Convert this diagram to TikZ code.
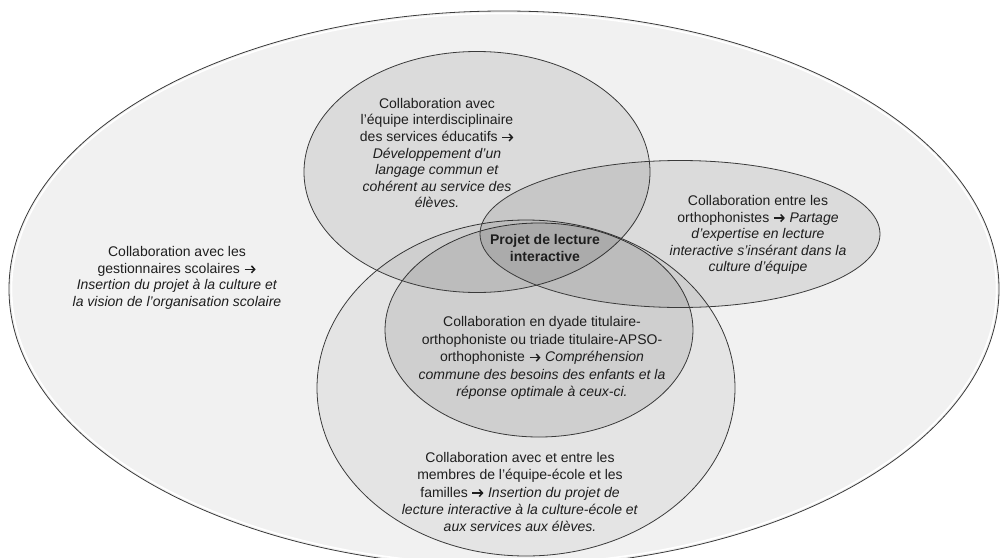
\documentclass[tikz,border=0pt]{standalone}
\usepackage{fontspec}
\setmainfont{Liberation Sans}
\usetikzlibrary{shapes.geometric,arrows.meta}
\definecolor{outerfill}{HTML}{F1F1F1}
\definecolor{edgecol}{HTML}{3A3A3A}
\definecolor{txtcol}{HTML}{1E1E1E}
\newcommand{\arr}{\tikz[baseline=-4pt]{\draw[txtcol, line width=1.5pt, -{Straight Barb[length=3.2pt,width=7pt,line width=1.5pt]}] (0pt,0pt) -- (11pt,0pt);}}
\tikzset{
  venn/.style={ellipse, draw=edgecol, line width=0.8pt, inner sep=0pt},
  halo/.style={ellipse, draw=white, line width=1.6pt, inner sep=0pt},
  lbl/.style={align=center, text=txtcol, font=\fontsize{14}{16.6}\selectfont, inner sep=0pt},
}
\begin{document}
\begin{tikzpicture}[x=1pt,y=-1pt]
\useasboundingbox (0,0) rectangle (1001,557);
\fill[white] (0,0) rectangle (1001,557);
\clip (0,0) rectangle (1001,557);
% outer ellipse
\node[halo, minimum width=986pt, minimum height=552pt] (outerh) at (504,289) {};
\node[venn, fill=outerfill, minimum width=990pt, minimum height=556pt] (outer) at (504,289) {};
\node[halo, minimum width=985pt, minimum height=551pt] (outerh2) at (504,289) {};
% bottom ellipse (equipe-ecole)
\node[venn, fill=black, fill opacity=0.05, minimum width=418pt, minimum height=336pt] (ecole) at (526,388) {};
% dyade
\node[venn, fill=black, fill opacity=0.09, minimum width=308pt, minimum height=214pt] (dyade) at (539,330) {};
% top ellipse
\node[venn, fill=black, fill opacity=0.09, minimum width=346pt, minimum height=241pt] (inter) at (477,172) {};
% right ellipse
\node[venn, fill=black, fill opacity=0.09, minimum width=400pt, minimum height=147pt] (ortho) at (680,234) {};
% texts
\node[lbl] (tgest) at (177,278) {Collaboration avec les\\gestionnaires scolaires \arr\\\textit{Insertion du projet à la culture et}\\\textit{la vision de l’organisation scolaire}};
\node[lbl] (tinter) at (437,153) {Collaboration avec\\l’équipe interdisciplinaire\\des services éducatifs \arr\\\textit{Développement d’un}\\\textit{langage commun et}\\\textit{cohérent au service des}\\\textit{élèves.}};
\node[lbl, font=\fontsize{14}{16.6}\selectfont\bfseries] (tprojet) at (545,248) {Projet de lecture\\interactive};
\node[lbl] (tortho) at (758,235) {Collaboration entre les\\orthophonistes \arr{} \textit{Partage}\\\textit{d’expertise en lecture}\\\textit{interactive s’insérant dans la}\\\textit{culture d’équipe}};
\node[lbl, font=\fontsize{14}{17.4}\selectfont] (tdyade) at (542,358) {Collaboration en dyade titulaire-\\orthophoniste ou triade titulaire-APSO-\\orthophoniste \arr{} \textit{Compréhension}\\\textit{commune des besoins des enfants et la}\\\textit{réponse optimale à ceux-ci.}};
\node[lbl, font=\fontsize{14}{17.4}\selectfont] (tecole) at (520,492) {Collaboration avec et entre les\\membres de l’équipe-école et les\\familles \arr{} \textit{Insertion du projet de}\\\textit{lecture interactive à la culture-école et}\\\textit{aux services aux élèves.}};
\end{tikzpicture}
\end{document}
